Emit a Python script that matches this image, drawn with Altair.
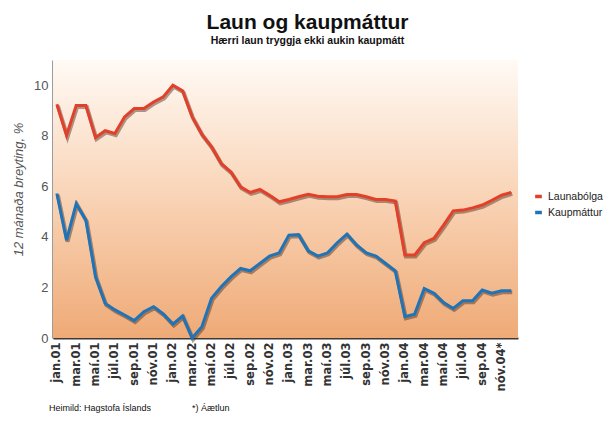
import json
import altair as alt
import pandas as pd

launabolga = [9.25, 8.02, 9.2, 9.2, 7.93, 8.2, 8.09, 8.75, 9.08, 9.08, 9.34, 9.54,
              10.0, 9.78, 8.75, 8.06, 7.56, 6.9, 6.57, 5.98, 5.76, 5.88, 5.65, 5.39,
              5.48, 5.59, 5.69, 5.61, 5.59, 5.59, 5.68, 5.68, 5.59, 5.48, 5.48, 5.42,
              3.28, 3.28, 3.77, 3.94, 4.47, 5.03, 5.06, 5.15, 5.26, 5.45, 5.65, 5.76]
kaupmattur = [5.72, 3.87, 5.32, 4.66, 2.42, 1.37, 1.11, 0.91, 0.69, 1.04, 1.24, 0.95,
              0.55, 0.87, 0.0, 0.45, 1.57, 2.03, 2.42, 2.75, 2.66, 2.95, 3.24, 3.37,
              4.07, 4.09, 3.45, 3.24, 3.37, 3.77, 4.11, 3.68, 3.37, 3.24, 2.95, 2.66,
              0.84, 0.94, 1.96, 1.77, 1.40, 1.17, 1.47, 1.47, 1.90, 1.77, 1.87, 1.87]
tick_labels = ["jan.01", "mar.01", "maí.01", "júl.01", "sep.01", "nóv.01",
               "jan.02", "mar.02", "maí.02", "júl.02", "sep.02", "nóv.02",
               "jan.03", "mar.03", "maí.03", "júl.03", "sep.03", "nóv.03",
               "jan.04", "mar.04", "maí.04", "júl.04", "sep.04", "nóv.04*"]
series_names = ["Launabólga", "Kaupmáttur"]
series_colors = ["#e2402a", "#1f74b8"]
footer_texts = ["Heimild: Hagstofa Íslands", "*) Áætlun"]

rows = []
for i, v in enumerate(launabolga):
    rows.append({"m": i, "v": v, "s": series_names[0]})
for i, v in enumerate(kaupmattur):
    rows.append({"m": i, "v": v, "s": series_names[1]})
df = pd.DataFrame(rows)

W, H = 465, 278
label_expr = json.dumps(tick_labels) + "[round(datum.value/2)]"

xscale = alt.Scale(domain=[-0.4, 47.7], nice=False, zero=False)
yscale = alt.Scale(domain=[0, 11], nice=False)

bg = alt.Chart(pd.DataFrame({"a": [0]})).mark_rect(
    fill=alt.Gradient(
        gradient="linear", x1=0, y1=0, x2=0, y2=1,
        stops=[alt.GradientStop(offset=0, color="#fffaf5"),
               alt.GradientStop(offset=0.5, color="#f9d3b5"),
               alt.GradientStop(offset=1, color="#efaa76")]
    )
).encode(x=alt.value(0), x2=alt.value(W), y=alt.value(0), y2=alt.value(H))

base = alt.Chart(df).encode(
    x=alt.X("m:Q", scale=xscale,
            axis=alt.Axis(values=list(range(0, 48, 2)), labelExpr=label_expr,
                          labelAngle=-90, labelAlign="right", labelBaseline="middle",
                          labelFont="DejaVu Sans", labelFontWeight="bold",
                          labelFontSize=11.5, labelColor="#333", labelPadding=4,
                          ticks=False, grid=False, domainColor="#3a3a3a",
                          domainWidth=2, title=None, labelOverlap=False)),
    y=alt.Y("v:Q", scale=yscale,
            axis=alt.Axis(values=[0, 2, 4, 6, 8, 10], ticks=False, grid=False,
                          domainColor="#3a3a3a", domainWidth=2,
                          labelFont="Liberation Sans", labelFontSize=13,
                          labelColor="#555", labelPadding=5,
                          title="12 mánaða breyting, %", titleFont="Liberation Sans",
                          titleFontStyle="italic", titleFontWeight="normal",
                          titleFontSize=13, titleColor="#555", titlePadding=8,
                          titleY=129)),
)

shadow = base.mark_line(strokeWidth=4, color="#4a2a1a", opacity=0.45,
                        xOffset=1, yOffset=1.5).encode(detail="s:N")

lines = base.mark_line(strokeWidth=3).encode(
    color=alt.Color("s:N", scale=alt.Scale(domain=series_names, range=series_colors),
                    sort=series_names,
                    legend=alt.Legend(orient="none", legendX=480, legendY=131,
                                      title=None, symbolType="stroke",
                                      symbolStrokeWidth=3.5, symbolSize=45,
                                      labelFont="Liberation Sans", labelFontSize=10.5,
                                      labelColor="#222", rowPadding=1, labelOffset=4,
                                      padding=0))
)

footer_df = pd.DataFrame({"t": footer_texts, "px": [-4, 139]})
footer = alt.Chart(footer_df).mark_text(
    align="left", baseline="middle", font="Liberation Sans", fontSize=9, color="#111"
).encode(text="t:N", x=alt.X("px:Q", scale=None), y=alt.value(H + 70))

chart = alt.layer(bg, shadow, lines, footer).properties(
    width=W, height=H,
    title=alt.TitleParams(
        text="Laun og kaupmáttur",
        subtitle="Hærri laun tryggja ekki aukin kaupmátt",
        anchor="middle", dx=22, font="Liberation Sans", fontSize=21,
        fontWeight="bold", color="#111", subtitleFont="Liberation Sans",
        subtitleFontSize=10.5, subtitleFontWeight="bold", subtitleColor="#111",
        subtitlePadding=3, offset=14),
    autosize=alt.AutoSizeParams(type="none"),
    padding={"left": 45, "top": 52, "right": 87, "bottom": 77},
).configure_view(stroke=None)

chart.save("out.html", embed_options={"renderer": "svg", "actions": False})
